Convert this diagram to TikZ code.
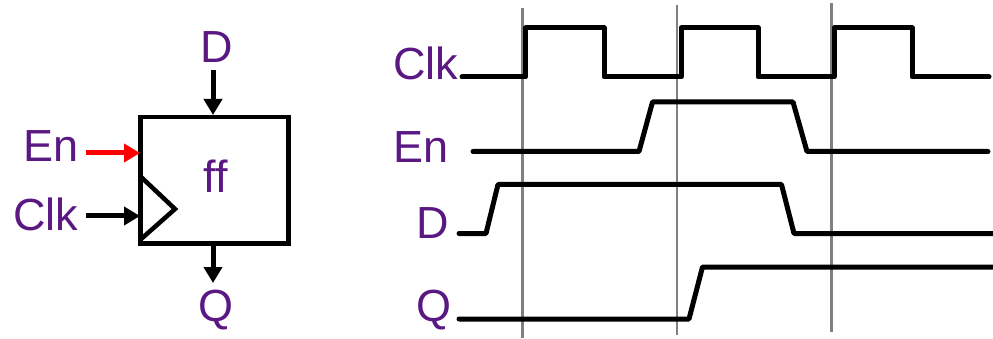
\documentclass[tikz,border=0pt]{standalone}
\usepackage{fontspec}
\setmainfont{Liberation Sans}
\usetikzlibrary{arrows.meta}
\definecolor{lblpurple}{RGB}{90,24,130}
\definecolor{gridgray}{RGB}{128,128,128}
\tikzset{
  lbl/.style={text=lblpurple, font=\fontsize{45}{48}\selectfont, inner sep=0pt, anchor=base},
  wave/.style={line width=5pt, line cap=round, line join=round},
  pin/.style={line width=5pt, -{Triangle[length=16pt,width=18pt]}},
  grid/.style={gridgray, line width=2.5pt},
}
\begin{document}
\begin{tikzpicture}[x=1pt,y=-1pt]
\useasboundingbox (0,0) rectangle (993,339);
% flip-flop
\node[draw, line width=4.5pt, minimum width=148pt, minimum height=126pt, inner sep=0pt, anchor=north west] (ff) at (138,115) {};
\node[lbl] (fftext) at (216,193) {ff};
\node[lbl] (dlab) at (217,63) {D};
\node[lbl] (enlab) at (51,162) {En};
\node[lbl] (clklab) at (46,230) {Clk};
\node[lbl] (qlab) at (216,321) {Q};
\coordinate (dtop) at (213,70);
\coordinate (din) at (213,115);
\coordinate (enst) at (86,153);
\coordinate (enin) at (140,153);
\coordinate (clkst) at (86,216);
\coordinate (clkin) at (140,216);
\coordinate (qout) at (213,241);
\coordinate (qend) at (213,283);
\draw[pin] (dtop) -- (din);
\draw[pin, red] (enst) -- (enin);
\draw[pin] (clkst) -- (clkin);
\draw[pin] (qout) -- (qend);
\draw[line width=4.5pt, line join=miter] (140,176) -- (175,209) -- (140,240);
% timing labels
\node[lbl] (tclk) at (426,80) {Clk};
\node[lbl] (ten) at (421,163) {En};
\node[lbl] (td) at (433,238) {D};
\node[lbl] (tq) at (434,321) {Q};
% grid lines
\draw[grid] (522.7,8) -- (522.7,338);
\draw[grid] (677,5) -- (677,335);
\draw[grid] (831.7,3) -- (831.7,332);
% waveforms
\draw[wave] (462,77) -- (525.5,77) -- (525.5,28) -- (604,28) -- (604,77) -- (681,77) -- (681,28) -- (758,28) -- (758,77) -- (834,77) -- (834,28) -- (912,28) -- (912,77) -- (989,77);
\draw[wave] (473,151.5) -- (639,151.5) -- (652.5,102) -- (793,102) -- (807,151.5) -- (988,151.5);
\draw[wave] (459,233.5) -- (486,233.5) -- (498,184.5) -- (781.5,184.5) -- (794,233.5) -- (993,233.5);
\draw[wave] (459,319) -- (689,319) -- (702.5,267) -- (993,267);
\end{tikzpicture}
\end{document}
